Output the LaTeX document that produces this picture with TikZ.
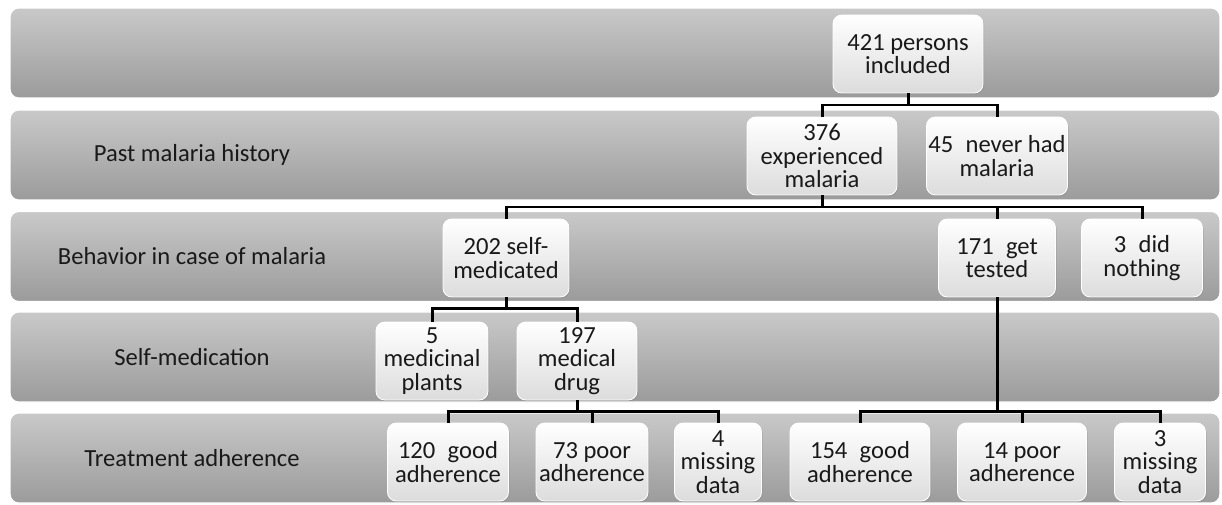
\documentclass[tikz,border=0pt]{standalone}
\usepackage{fontspec}
\setmainfont{Carlito}
\usepackage{tikz}
\usetikzlibrary{shadows}
\definecolor{bandtop}{HTML}{C9C9C9}
\definecolor{bandbot}{HTML}{9B9B9B}
\definecolor{boxbot}{HTML}{DCDCDC}
\tikzset{
  band/.style={rounded corners=5pt,top color=bandtop,bottom color=bandbot,
    draw=white,line width=0.6pt,minimum width=24.2cm,minimum height=1.8cm},
  box/.style={rounded corners=5pt,top color=white,bottom color=boxbot,
    draw=white,line width=0.5pt,minimum height=1.56cm,align=center,
    inner sep=1pt,drop shadow={opacity=0.35,shadow xshift=0.6pt,shadow yshift=-0.6pt}},
  lbl/.style={text=black!90},
  conn/.style={line width=1.7pt,black}
}

\begin{document}
\begin{tikzpicture}[x=0.02cm,y=-0.02cm,font=\fontsize{14}{13.4}\selectfont,text=black!90]
  \useasboundingbox (0,0) rectangle (1222,504);
  % bands
  \node[band] (b1) at (615,53) {};
  \node[band] (b2) at (615,155) {};
  \node[band] (b3) at (615,256.5) {};
  \node[band] (b4) at (615,357) {};
  \node[band] (b5) at (615,458) {};
  \node[lbl] (l2) at (192,155) {Past malaria history};
  \node[lbl] (l3) at (192,256.5) {Behavior in case of malaria};
  \node[lbl] (l4) at (192,357) {Self-medication};
  \node[lbl] (l5) at (192,458) {Treatment adherence};

  % boxes
  \node[box,minimum width=3cm] (n421) at (908,54) {421 persons\\included};
  \node[box,minimum width=3cm] (n376) at (822,156) {376\\experienced\\malaria};
  \node[box,minimum width=2.82cm] (n45) at (997,156) {45\enspace never had\\malaria};
  \node[box,minimum width=2.52cm] (n202) at (506,258) {202 self-\\medicated};
  \node[box,minimum width=2.34cm] (n171) at (997,258) {171\enspace get\\tested};
  \node[box,minimum width=2.42cm] (n3dn) at (1142,258) {3\enspace did\\nothing};
  \node[box,minimum width=2.24cm] (n5) at (432,361) {5\\medicinal\\plants};
  \node[box,minimum width=2.4cm] (n197) at (577,361) {197\\medical\\drug};
  \node[box,minimum width=2.42cm] (n120) at (448,462) {120\enspace good\\adherence};
  \node[box,minimum width=2.24cm] (n73) at (592,462) {73 poor\\adherence};
  \node[box,minimum width=1.74cm] (n4) at (718,462) {4\\missing\\data};
  \node[box,minimum width=2.8cm] (n154) at (860,462) {154\enspace good\\adherence};
  \node[box,minimum width=2.58cm] (n14) at (1022,462) {14 poor\\adherence};
  \node[box,minimum width=1.82cm] (n3md) at (1160,462) {3\\missing\\data};

  % bus levels
  \coordinate (j1) at (0,105);
  \coordinate (j2) at (0,207);
  \coordinate (j3) at (0,308);
  \coordinate (j4) at (0,411);

  % connectors
  \draw[conn] (n421.south) -- (n421.south |- j1) -| (n376.north);
  \draw[conn] (n421.south |- j1) -| (n45.north);
  \draw[conn] (n376.south) -- (n376.south |- j2) -| (n202.north);
  \draw[conn] (n376.south |- j2) -| (n171.north);
  \draw[conn] (n376.south |- j2) -| (n3dn.north);
  \draw[conn] (n202.south) -- (n202.south |- j3) -| (n5.north);
  \draw[conn] (n202.south |- j3) -| (n197.north);
  \draw[conn] (n197.south) -- (n197.south |- j4) -| (n120.north);
  \draw[conn] (n197.south |- j4) -| (n73.north);
  \draw[conn] (n197.south |- j4) -| (n4.north);
  \draw[conn] (n171.south) -- (n171.south |- j4) -| (n154.north);
  \draw[conn] (n171.south |- j4) -| (n14.north);
  \draw[conn] (n171.south |- j4) -| (n3md.north);
\end{tikzpicture}
\end{document}
